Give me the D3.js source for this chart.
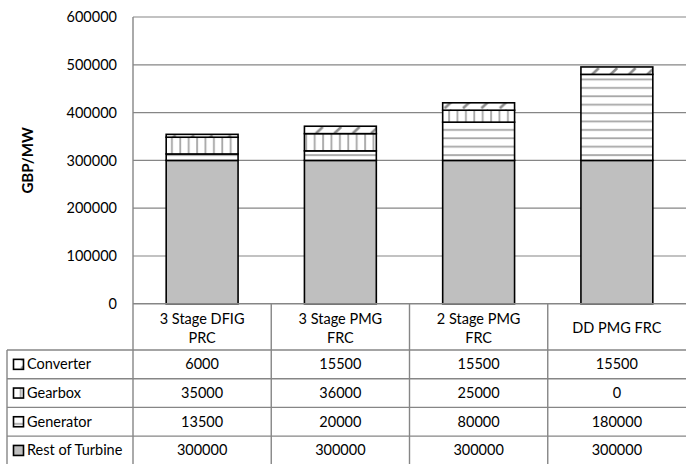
<!DOCTYPE html>
<html>
<head>
<meta charset="utf-8">
<script src="https://cdn.jsdelivr.net/npm/d3@7"></script>
<style>
  body { margin: 0; background: #fff; }
  text { font-family: Lato, "Open Sans", sans-serif; fill: #000; }
</style>
</head>
<body>
<script>
// chart values
const categories = ['3 Stage DFIG PRC', '3 Stage PMG FRC', '2 Stage PMG FRC', 'DD PMG FRC'];
const categoryLines = [['3 Stage DFIG', 'PRC'], ['3 Stage PMG', 'FRC'], ['2 Stage PMG', 'FRC'], ['DD PMG FRC']];
const seriesNames = ['Rest of Turbine', 'Generator', 'Gearbox', 'Converter'];
const restOfTurbine = [300000, 300000, 300000, 300000];
const generator = [13500, 20000, 80000, 180000];
const gearbox = [35000, 36000, 25000, 0];
const converter = [6000, 15500, 15500, 15500];
const yTicks = [0, 100000, 200000, 300000, 400000, 500000, 600000];

const W = 686, H = 464;
const plotLeft = 133, plotRight = 686, plotTop = 17, zeroY = 303.8;
const tableLeft = 7, headerBottom = 350, rowH = 28.7;
const grid = '#868686';
const fontSize = '14.5px';

const svg = d3.select('body').append('svg')
    .attr('width', W)
    .attr('height', H);

// patterns
const defs = svg.append('defs');
const pHoriz = defs.append('pattern').attr('id', 'p-gen')
    .attr('patternUnits', 'userSpaceOnUse').attr('width', 8.4).attr('height', 8.4);
pHoriz.append('rect').attr('width', 8.4).attr('height', 8.4).attr('fill', '#fff');
pHoriz.append('rect').attr('y', 3).attr('width', 8.4).attr('height', 1.8).attr('fill', '#a6a6a6');

const pVert = defs.append('pattern').attr('id', 'p-gear')
    .attr('patternUnits', 'userSpaceOnUse').attr('width', 8.4).attr('height', 8.4);
pVert.append('rect').attr('width', 8.4).attr('height', 8.4).attr('fill', '#fff');
pVert.append('rect').attr('x', 3).attr('width', 1.8).attr('height', 8.4).attr('fill', '#a6a6a6');

const pDiag = defs.append('pattern').attr('id', 'p-conv')
    .attr('patternUnits', 'userSpaceOnUse').attr('width', 18.4).attr('height', 8.4);
pDiag.append('rect').attr('width', 18.4).attr('height', 8.4).attr('fill', '#fff');
pDiag.append('line').attr('x1', 3).attr('y1', 7.5).attr('x2', 10).attr('y2', 1)
    .attr('stroke', '#8c8c8c').attr('stroke-width', 2.6);

const fills = {
    'Rest of Turbine': '#bfbfbf',
    'Generator': 'url(#p-gen)',
    'Gearbox': 'url(#p-gear)',
    'Converter': 'url(#p-conv)'
};

// scales
const x = d3.scaleBand().domain(categories).range([plotLeft, plotRight]).padding(0);
const y = d3.scaleLinear().domain([0, 600000]).range([zeroY, plotTop]);
const barW = x.bandwidth() * 0.52;

// gridlines
svg.selectAll('.grid')
    .data(yTicks.slice(1))
    .enter()
  .append('line')
    .attr('x1', plotLeft).attr('x2', plotRight)
    .attr('y1', d => y(d)).attr('y2', d => y(d))
    .attr('stroke', grid).attr('stroke-width', 1.2);

// y axis labels
const yAxis = svg.append('g')
    .attr('transform', `translate(${plotLeft},0)`)
    .call(d3.axisLeft(y).tickValues(yTicks).tickSize(0).tickPadding(16).tickFormat(d => d));
yAxis.select('.domain').remove();
yAxis.selectAll('text').style('font-size', fontSize).style('font-family', 'Lato, sans-serif').attr('fill', '#000');

// y title
svg.append('text')
    .attr('transform', `translate(33,${(plotTop + zeroY) / 2}) rotate(-90)`)
    .attr('text-anchor', 'middle')
    .style('font-size', '15px')
    .style('font-weight', 'bold')
    .text('GBP/MW');

// stacked bars
const rows = categories.map((c, i) => ({
    cat: c,
    'Rest of Turbine': restOfTurbine[i],
    'Generator': generator[i],
    'Gearbox': gearbox[i],
    'Converter': converter[i]
}));
const stacked = d3.stack().keys(seriesNames)(rows);

svg.selectAll('.layer')
    .data(stacked)
    .enter()
  .append('g')
    .attr('fill', d => fills[d.key])
    .selectAll('rect')
    .data(d => d.filter(s => s[1] > s[0]))
    .enter()
  .append('rect')
    .attr('x', d => x(d.data.cat) + (x.bandwidth() - barW) / 2)
    .attr('width', barW)
    .attr('y', d => y(d[1]))
    .attr('height', d => y(d[0]) - y(d[1]))
    .attr('stroke', '#000')
    .attr('stroke-width', 1.6);

// table lines
const tableRows = seriesNames.slice().reverse();
const hLines = d3.range(tableRows.length).map(i => headerBottom + i * rowH);
svg.selectAll('.hline')
    .data(hLines)
    .enter()
  .append('line')
    .attr('x1', tableLeft).attr('x2', plotRight)
    .attr('y1', d => d).attr('y2', d => d)
    .attr('stroke', grid).attr('stroke-width', 1.4);
svg.append('line')
    .attr('x1', tableLeft).attr('x2', tableLeft)
    .attr('y1', headerBottom).attr('y2', H)
    .attr('stroke', grid).attr('stroke-width', 1.4);
svg.selectAll('.vline')
    .data(categories.slice(1))
    .enter()
  .append('line')
    .attr('x1', d => x(d)).attr('x2', d => x(d))
    .attr('y1', zeroY).attr('y2', H)
    .attr('stroke', grid).attr('stroke-width', 1.4);
// axis lines
svg.append('line')
    .attr('x1', plotLeft).attr('x2', plotRight)
    .attr('y1', zeroY).attr('y2', zeroY)
    .attr('stroke', grid).attr('stroke-width', 1.4);
svg.append('line')
    .attr('x1', plotLeft).attr('x2', plotLeft)
    .attr('y1', plotTop).attr('y2', H)
    .attr('stroke', grid).attr('stroke-width', 1.4);

// category header
categories.forEach((c, i) => {
    const lines = categoryLines[i];
    const cy = (zeroY + headerBottom) / 2;
    const t = svg.append('text')
        .attr('x', x(c) + x.bandwidth() / 2)
        .attr('text-anchor', 'middle')
        .style('font-size', fontSize);
    lines.forEach((ln, j) => {
        t.append('tspan')
            .attr('x', x(c) + x.bandwidth() / 2)
            .attr('y', cy + 6.5 + (j - (lines.length - 1) / 2) * 19)
            .text(ln);
    });
});

// table body
const valuesBy = {
    'Converter': converter,
    'Gearbox': gearbox,
    'Generator': generator,
    'Rest of Turbine': restOfTurbine
};
tableRows.forEach((name, r) => {
    const cy = headerBottom + r * rowH + rowH / 2;
    svg.append('rect')
        .attr('x', 13.5).attr('y', cy - 5)
        .attr('width', 10).attr('height', 10)
        .attr('fill', fills[name])
        .attr('stroke', '#000').attr('stroke-width', 1.6);
    svg.append('text')
        .attr('x', 27).attr('y', cy + 5)
        .style('font-size', fontSize)
        .text(name);
    valuesBy[name].forEach((v, i) => {
        svg.append('text')
            .attr('x', x(categories[i]) + x.bandwidth() / 2)
            .attr('y', cy + 5)
            .attr('text-anchor', 'middle')
            .style('font-size', fontSize)
            .text(v);
    });
});
</script>
</body>
</html>
